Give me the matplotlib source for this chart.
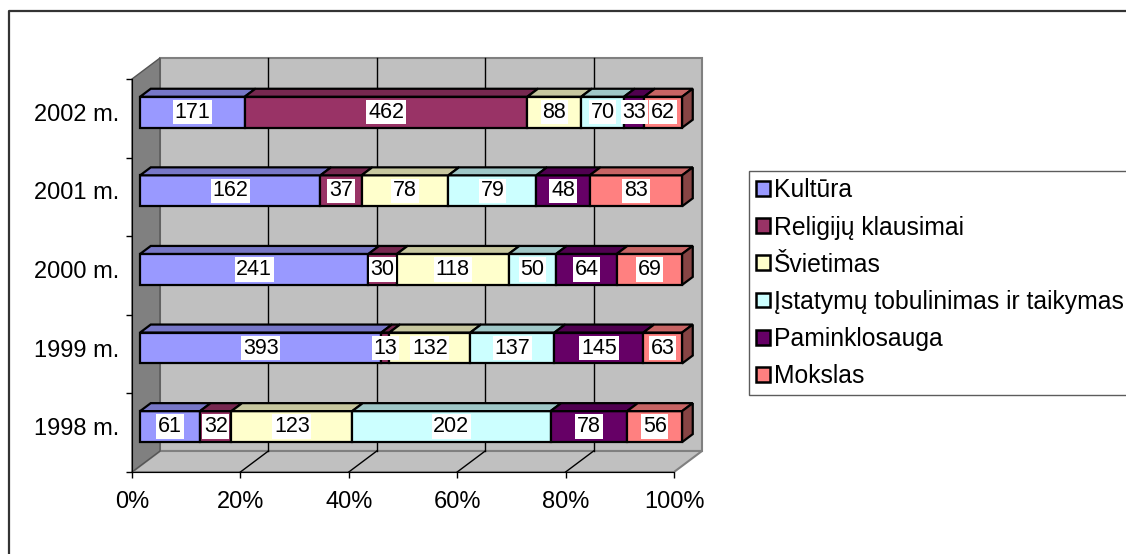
import numpy as np
import matplotlib
matplotlib.use("Agg")
import matplotlib.pyplot as plt
from matplotlib.patches import Polygon, Patch
from matplotlib.lines import Line2D
from matplotlib.colors import to_rgb

plt.rcParams['font.family'] = ['Liberation Sans', 'DejaVu Sans']

# ---------------- data ----------------
years = ["1998 m.", "1999 m.", "2000 m.", "2001 m.", "2002 m."]
series_names = ["Kultūra", "Religijų klausimai", "Švietimas",
                "Įstatymų tobulinimas ir taikymas", "Paminklosauga", "Mokslas"]
kultura = [61, 393, 241, 162, 171]
religiju = [32, 13, 30, 37, 462]
svietimas = [123, 132, 118, 78, 88]
istatymu = [202, 137, 50, 79, 70]
paminklosauga = [78, 145, 64, 48, 33]
mokslas = [56, 63, 69, 83, 62]
colors = ["#9999FF", "#993366", "#FFFFCC", "#CCFFFF", "#660066", "#FF8080"]
xticks = [0, 20, 40, 60, 80, 100]
xtick_labels = ["0%", "20%", "40%", "60%", "80%", "100%"]

values = np.array([kultura, religiju, svietimas, istatymu, paminklosauga, mokslas], dtype=float)
totals = values.sum(axis=0)
pct = values / totals * 100.0

# ---------------- figure ----------------
W, H = 1126, 554
fig = plt.figure(figsize=(W / 100, H / 100), dpi=100)
ax = fig.add_axes([132 / W, (H - 472) / H, 542 / W, 393 / H])
ax.set_xlim(0, 100)
ax.set_ylim(-0.5, 4.5)
ax.patch.set_visible(False)

# 3-D depth offsets in data units
DX = 28 / 542 * 100
DY = 21 / 393 * 5
d0 = 0.29   # front face depth of bars
bd = 0.38   # bar depth
h = 0.394   # bar height

def shade(c, f):
    r, g, b = to_rgb(c)
    return (r * f, g * f, b * f)

# walls
y0, y1 = -0.5, 4.5
back = Polygon([(DX, y0 + DY), (100 + DX, y0 + DY), (100 + DX, y1 + DY), (DX, y1 + DY)],
               closed=True, facecolor="#C0C0C0", edgecolor="#808080", lw=1.5,
               clip_on=False, zorder=0.5)
side = Polygon([(0, y0), (DX, y0 + DY), (DX, y1 + DY), (0, y1)],
               closed=True, facecolor="#808080", edgecolor="#555555", lw=1.0,
               clip_on=False, zorder=0.55)
floor = Polygon([(0, y0), (100, y0), (100 + DX, y0 + DY), (DX, y0 + DY)],
                closed=True, facecolor="#C0C0C0", edgecolor="#808080", lw=1.5,
                clip_on=False, zorder=0.52)
for p in (back, floor, side):
    ax.add_patch(p)

for xv in xticks[1:-1]:
    ax.plot([xv + DX, xv + DX], [y0 + DY, y1 + DY], color="black", lw=1,
            clip_on=False, zorder=0.6)
    ax.plot([xv, xv + DX], [y0, y0 + DY], color="black", lw=1,
            clip_on=False, zorder=0.6)

# bars
ypos = np.arange(len(years))
yc = ypos + d0 * DY
left = np.zeros(len(years))
for k in range(len(series_names)):
    w = pct[k]
    lft = left + d0 * DX
    bars = ax.barh(yc, w, left=lft, height=h, color=colors[k],
                   edgecolor="black", linewidth=1.6, zorder=2)
    for b in bars:
        b.set_clip_on(False)
    topc = shade(colors[k], 0.78)
    sidec = shade(colors[k], 0.53)
    for i in range(len(years)):
        l = lft[i]
        r = lft[i] + w[i]
        t = yc[i] + h / 2
        bt = yc[i] - h / 2
        ax.add_patch(Polygon([(l, t), (r, t), (r + bd * DX, t + bd * DY), (l + bd * DX, t + bd * DY)],
                             closed=True, facecolor=topc, edgecolor="black", lw=1.6,
                             clip_on=False, zorder=2.1))
        if k == len(series_names) - 1:
            ax.add_patch(Polygon([(r, bt), (r, t), (r + bd * DX, t + bd * DY), (r + bd * DX, bt + bd * DY)],
                                 closed=True, facecolor=sidec, edgecolor="black", lw=1.6,
                                 clip_on=False, zorder=2.1))
        ax.text(l + w[i] / 2, yc[i], f"{int(values[k][i])}", ha="center", va="center",
                fontsize=15.5, color="black", zorder=5, clip_on=False,
                bbox=dict(boxstyle="square,pad=0.08", facecolor="white", edgecolor="none"))
    left = left + w

# axes / ticks
for s in ("top", "right"):
    ax.spines[s].set_visible(False)
ax.spines["left"].set_color("black")
ax.spines["bottom"].set_color("black")
ax.spines["left"].set_zorder(3)
ax.spines["bottom"].set_zorder(3)
ax.set_xticks(xticks)
ax.set_xticklabels(xtick_labels)
ax.tick_params(axis="x", length=4.5, width=1, pad=9, labelsize=17)
ax.set_yticks(yc)
ax.set_yticklabels(years)
ax.tick_params(axis="y", which="major", length=0, pad=9, labelsize=17)
ax.set_yticks(np.arange(-0.5, 5.0, 1.0), minor=True)
ax.tick_params(axis="y", which="minor", length=4.5, width=1)

# legend
handles = [Patch(facecolor=c, edgecolor="black", linewidth=1.8) for c in colors]
leg = fig.legend(handles, series_names, loc="upper left",
                 bbox_to_anchor=(749 / W, 1 - 171 / H), frameon=True, fancybox=False,
                 edgecolor="#333333", fontsize=17.8, handlelength=0.55, handleheight=0.55,
                 handletextpad=0.15, labelspacing=0.53, borderpad=0.3, borderaxespad=0)
leg.get_frame().set_linewidth(1.0)

# outer border
fig.add_artist(Line2D([9 / W, 9 / W, 1.0], [0.0, 1 - 11 / H, 1 - 11 / H],
                      transform=fig.transFigure, color="#333333", lw=1.6))

fig.savefig("out.png", dpi=100)
